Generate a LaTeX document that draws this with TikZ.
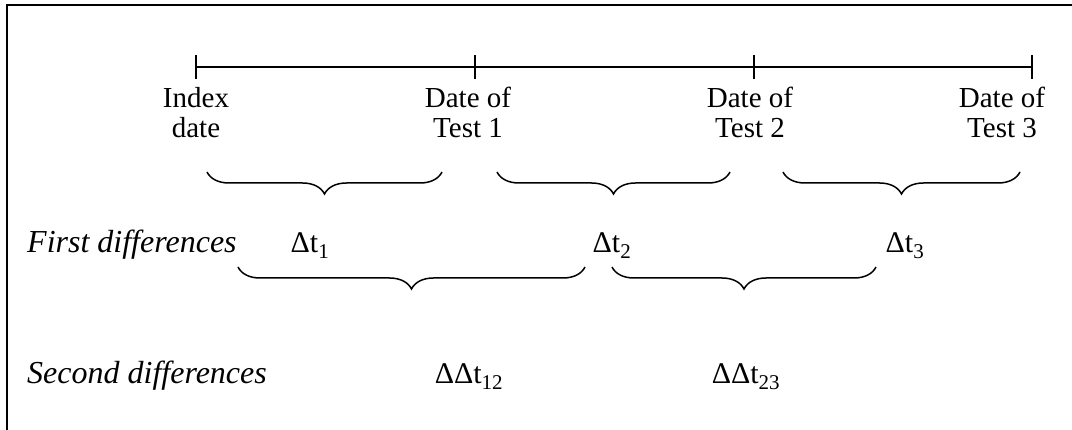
\documentclass[tikz,border=0pt]{standalone}
\usepackage{fontspec}
\setmainfont{Liberation Serif}
\usetikzlibrary{decorations.pathreplacing}
\begin{document}
\begin{tikzpicture}[x=1pt,y=-1pt,
  datelbl/.style={font=\fontsize{29}{30}\selectfont, inner sep=0pt, align=center, anchor=north},
  rowlbl/.style={font=\fontsize{32}{33}\selectfont\itshape, inner sep=0pt, anchor=base west},
  delta/.style={font=\fontsize{30}{31}\selectfont, inner sep=0pt, anchor=base},
  brc/.style={decorate, decoration={brace, mirror, amplitude=22pt}, line width=1.5pt},
  axis/.style={line width=1.6pt},
  frame/.style={line width=1.4pt}]
\useasboundingbox (0,0) rectangle (1072,430);
% open frame: top and left edges
\coordinate (fbl) at (7,430);
\coordinate (ftl) at (7,5);
\coordinate (ftr) at (1072,5);
\draw[frame] (fbl) -- (ftl) -- (ftr);

% time axis with tick marks
\coordinate (t0) at (196,67);
\coordinate (t1) at (475,67);
\coordinate (t2) at (754,67);
\coordinate (t3) at (1032,67);
\draw[axis] (t0) -- (t3);
\foreach \t in {t0,t1,t2,t3}
  \draw[axis] ([yshift=-12pt]\t) -- ([yshift=12pt]\t);

% dates under the ticks
\node[datelbl] (d0) at (196,87) {Index\\date};
\node[datelbl] (d1) at (468,87) {Date of\\Test 1};
\node[datelbl] (d2) at (750,87) {Date of\\Test 2};
\node[datelbl] (d3) at (1002,87) {Date of\\Test 3};

% first differences
\node[rowlbl] (r1) at (27,253) {First differences};
\coordinate (b1a) at (207,172); \coordinate (b1b) at (442,172);
\coordinate (b2a) at (497,172); \coordinate (b2b) at (730,172);
\coordinate (b3a) at (783,172); \coordinate (b3b) at (1020,172);
\draw[brc] (b1a) -- (b1b);
\draw[brc] (b2a) -- (b2b);
\draw[brc] (b3a) -- (b3b);
\node[delta] (dt1) at (310,253) {Δt\textsubscript{1}};
\node[delta] (dt2) at (612,253) {Δt\textsubscript{2}};
\node[delta] (dt3) at (905,253) {Δt\textsubscript{3}};

% second differences
\node[rowlbl] (r2) at (27,384) {Second differences};
\coordinate (b4a) at (238,267); \coordinate (b4b) at (585,267);
\coordinate (b5a) at (612,267); \coordinate (b5b) at (876,267);
\draw[brc] (b4a) -- (b4b);
\draw[brc] (b5a) -- (b5b);
\node[delta] (ddt12) at (469,384) {ΔΔt\textsubscript{12}};
\node[delta] (ddt23) at (746,384) {ΔΔt\textsubscript{23}};
\end{tikzpicture}
\end{document}
